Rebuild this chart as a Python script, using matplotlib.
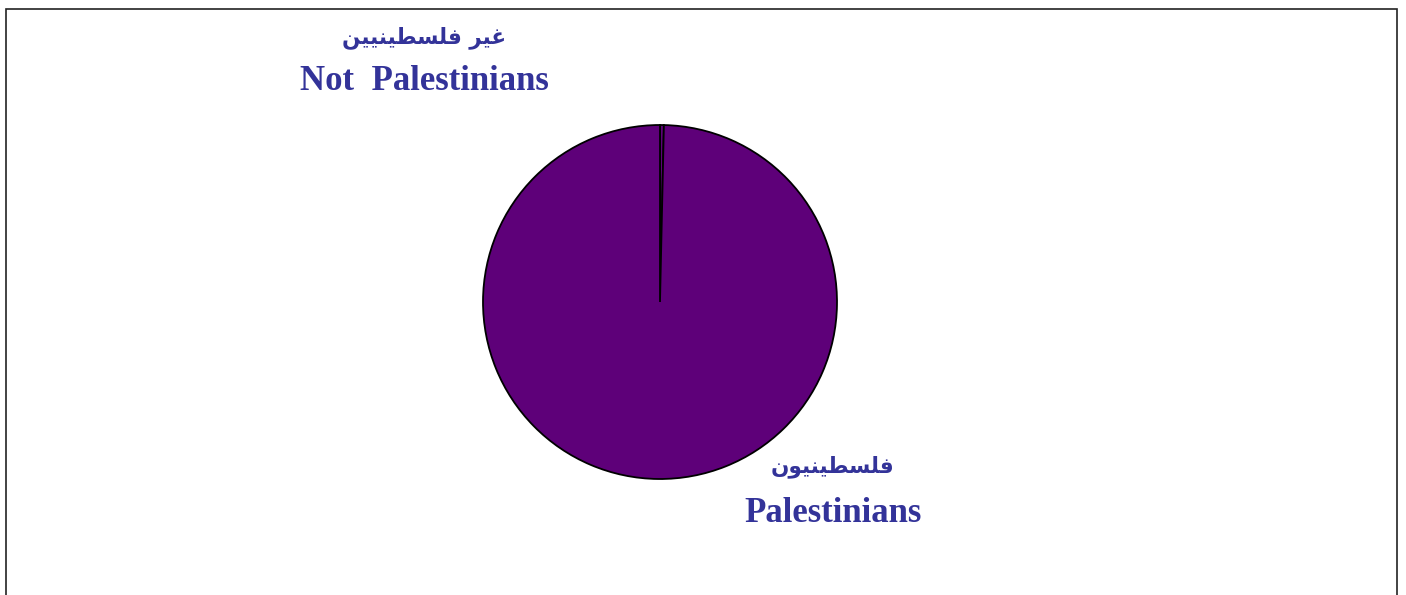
import matplotlib
matplotlib.use("Agg")
import matplotlib.pyplot as plt
from matplotlib.patches import Rectangle

# data
labels_ar = ["غير فلسطينيين", "فلسطينيون"]
labels_en = ["Not  Palestinians", "Palestinians"]
shares = [0.35, 99.65]
colors = ["#5E0079", "#5E0079"]
text_color = "#333399"

# minimal arabic shaping (matplotlib has no bidi/joining)
forms = {
    "غ": (0xFECD, 0xFECE, 0xFECF, 0xFED0),
    "ي": (0xFEF1, 0xFEF2, 0xFEF3, 0xFEF4),
    "ر": (0xFEAD, 0xFEAE, None, None),
    "ف": (0xFED1, 0xFED2, 0xFED3, 0xFED4),
    "ل": (0xFEDD, 0xFEDE, 0xFEDF, 0xFEE0),
    "س": (0xFEB1, 0xFEB2, 0xFEB3, 0xFEB4),
    "ط": (0xFEC1, 0xFEC2, 0xFEC3, 0xFEC4),
    "ن": (0xFEE5, 0xFEE6, 0xFEE7, 0xFEE8),
    "و": (0xFEED, 0xFEEE, None, None),
}

def dual(c):
    return c in forms and forms[c][2] is not None

def shape(s):
    out = []
    for i, c in enumerate(s):
        if c not in forms:
            out.append(c)
            continue
        prev = s[i - 1] if i > 0 else " "
        nxt = s[i + 1] if i + 1 < len(s) else " "
        jp = dual(prev)
        jn = dual(c) and nxt in forms
        f = forms[c]
        if jp and jn:
            code = f[3]
        elif jp:
            code = f[1]
        elif jn:
            code = f[2]
        else:
            code = f[0]
        out.append(chr(code))
    return "".join(out)[::-1]

W, H = 1406, 595
fig = plt.figure(figsize=(W / 100, H / 100), dpi=100)

fig.patches.append(Rectangle((6 / W, -0.1), (1397 - 6) / W, 1.1 - 9 / H,
                             transform=fig.transFigure, fill=False,
                             edgecolor="#222222", linewidth=1.2))

cx, cy, r = 660, 302, 177
ax = fig.add_axes([(cx - r) / W, (H - cy - r) / H, 2 * r / W, 2 * r / H])
wedges, _ = ax.pie(shares, colors=colors, startangle=90, counterclock=False,
                   wedgeprops=dict(edgecolor="black", linewidth=1.3))
for w in wedges:
    w.set_clip_on(False)
ax.set_xlim(-1.0, 1.0)
ax.set_ylim(-1.0, 1.0)
ax.set_aspect("equal")
ax.axis("off")

pos = [(424, 38, 82), (833, 467, 514)]
for (x, ya, ye), ar, en in zip(pos, labels_ar, labels_en):
    fig.text(x / W, 1 - ya / H, shape(ar), ha="center", va="center",
             fontsize=15.5, fontweight="bold", color=text_color,
             family="DejaVu Sans")
    fig.text(x / W, 1 - ye / H, en, ha="center", va="center",
             fontsize=25, fontweight="bold", color=text_color,
             family="Liberation Serif")

fig.savefig("out.png", dpi=100)
